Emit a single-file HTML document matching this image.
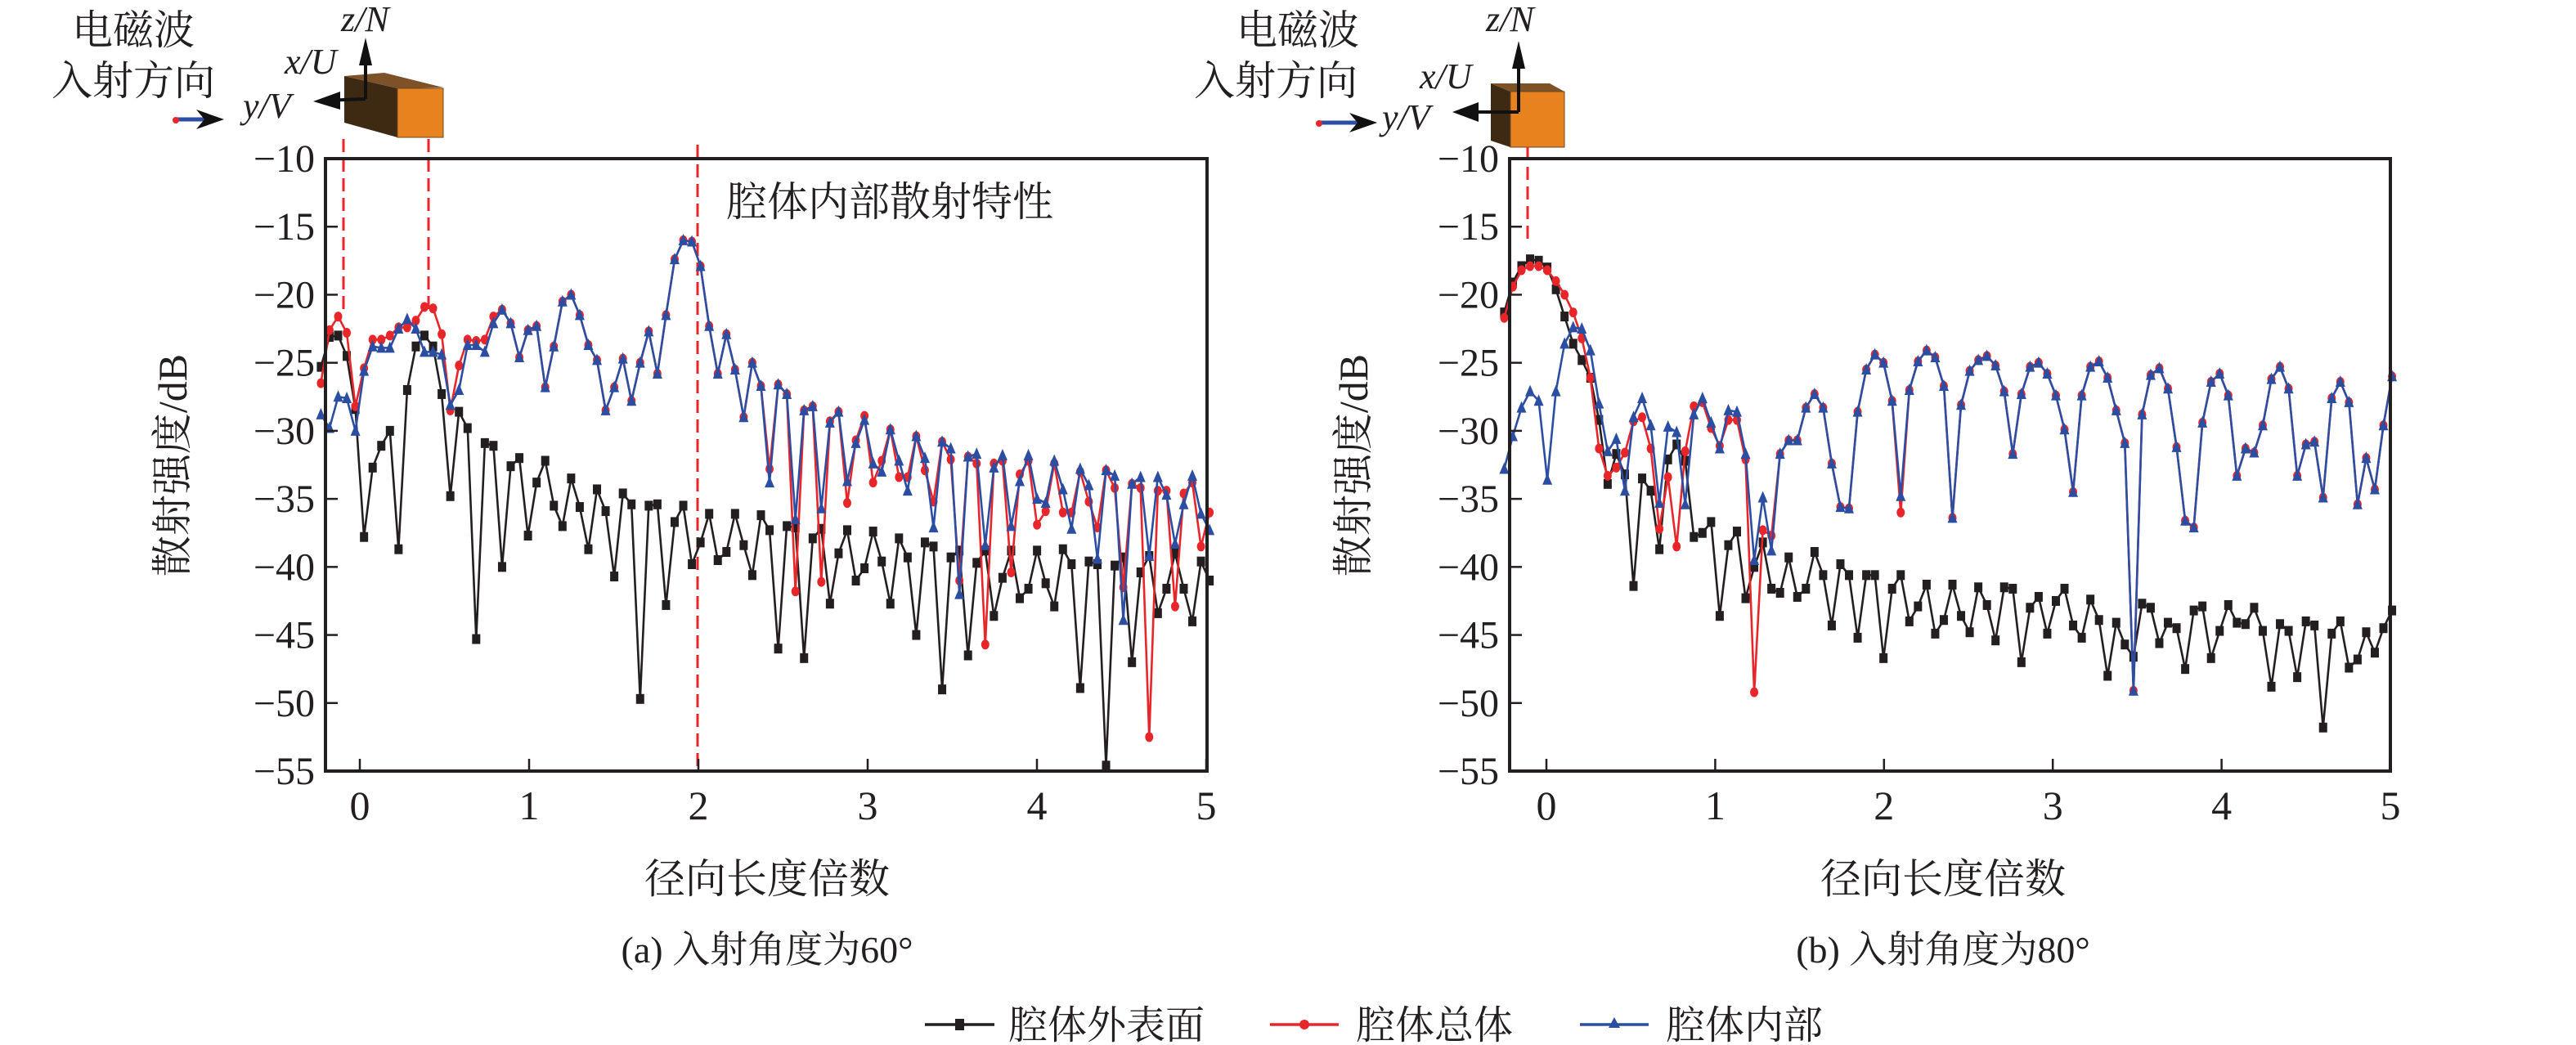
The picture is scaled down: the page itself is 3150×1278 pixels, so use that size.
<!DOCTYPE html>
<html><head><meta charset="utf-8"><style>
html,body{margin:0;padding:0;background:#fff}
svg{display:block}
text{font-family:"Liberation Serif","Noto Serif CJK SC","Noto Sans CJK SC",serif;fill:#231f20}
</style></head><body>
<svg id="fig" width="3150" height="1278" viewBox="0 0 3150 1278" xmlns="http://www.w3.org/2000/svg">
<g>
<text x="163" y="54" font-size="50" text-anchor="middle">电磁波</text>
<text x="163" y="116" font-size="50" text-anchor="middle">入射方向</text>
<line x1="216" y1="146" x2="258" y2="146" stroke="#2b4ea2" stroke-width="5"/>
<circle cx="215" cy="147" r="4" fill="#e8262a"/>
<polygon points="274,146 240,134 250,146 240,158" fill="#111"/>
<polygon points="421,150 486,168 486,108 421,93" fill="#3e2912"/>
<polygon points="421,93 470,89 542,107 486,108" fill="#7d5228"/>
<rect x="486" y="108" width="56" height="60" fill="#e8821f" stroke="#6b4a20" stroke-width="1"/>
<line x1="447" y1="121" x2="447" y2="58" stroke="#111" stroke-width="4"/>
<polygon points="447,46 439,80 455,80" fill="#111"/>
<line x1="447" y1="121" x2="395" y2="123" stroke="#111" stroke-width="4"/>
<polygon points="383,124 416,112 416,134" fill="#111"/>
<text x="417" y="38" font-size="44" font-style="italic">z/N</text>
<text x="348" y="90" font-size="44" font-style="italic">x/U</text>
<text x="297" y="144" font-size="44" font-style="italic">y/V</text>
</g>
<g>
<text x="1587" y="54" font-size="50" text-anchor="middle">电磁波</text>
<text x="1560" y="116" font-size="50" text-anchor="middle">入射方向</text>
<line x1="1614" y1="150" x2="1664" y2="150" stroke="#2b4ea2" stroke-width="5"/>
<circle cx="1613" cy="151" r="4" fill="#e8262a"/>
<polygon points="1684,150 1650,138 1660,150 1650,162" fill="#111"/>
<polygon points="1823,102 1847,112 1847,180 1823,172" fill="#3e2912"/>
<polygon points="1823,102 1895,102 1913,112 1847,112" fill="#7d5228"/>
<rect x="1847" y="112" width="66" height="68" fill="#e8821f" stroke="#6b4a20" stroke-width="1"/>
<line x1="1857" y1="137" x2="1857" y2="62" stroke="#111" stroke-width="4"/>
<polygon points="1857,50 1849,84 1865,84" fill="#111"/>
<line x1="1857" y1="137" x2="1788" y2="137" stroke="#111" stroke-width="4"/>
<polygon points="1776,137 1808,125 1808,149" fill="#111"/>
<text x="1817" y="38" font-size="44" font-style="italic">z/N</text>
<text x="1736" y="108" font-size="44" font-style="italic">x/U</text>
<text x="1690" y="158" font-size="44" font-style="italic">y/V</text>
</g>
<g id="plots"></g>
<g>
<g>
<line x1="1131" y1="1253" x2="1216" y2="1253" stroke="#231f20" stroke-width="3.5"/>
<rect x="1168" y="1246" width="11" height="14" fill="#231f20"/>
<text x="1233" y="1270" font-size="48">腔体外表面</text></g>
<g>
<line x1="1553" y1="1253" x2="1637" y2="1253" stroke="#e8262a" stroke-width="3.5"/>
<circle cx="1595" cy="1253" r="6" fill="#e8262a"/>
<text x="1658" y="1270" font-size="48">腔体总体</text></g>
<g>
<line x1="1932" y1="1253" x2="2016" y2="1253" stroke="#2b4ea2" stroke-width="3.5"/>
<polygon points="1974,1244 1967,1257 1981,1257" fill="#2b4ea2"/>
<text x="2037" y="1270" font-size="48">腔体内部</text></g>
</g>
</svg>
<script>
// ---------- data: panel (a) 60° ----------
const aOuter=[-25.3,-23.1,-23.0,-24.5,-28.4,-37.8,-32.7,-31.1,-30.0,-38.7,-27.0,-23.8,-23.0,-23.8,-27.3,-34.8,-28.6,-29.8,-45.3,-30.9,-31.1,-40.0,-32.6,-32.0,-37.7,-33.8,-32.2,-35.5,-37.0,-33.5,-35.6,-38.7,-34.3,-35.9,-40.7,-34.6,-35.4,-49.7,-35.5,-35.4,-42.8,-36.7,-35.5,-39.8,-38.2,-36.1,-39.5,-38.9,-36.1,-38.4,-40.6,-36.2,-37.3,-46.0,-37.0,-37.1,-46.7,-37.9,-37.2,-42.7,-39.0,-37.3,-41.0,-40.1,-37.4,-39.6,-42.7,-37.9,-39.3,-45.0,-38.2,-38.5,-49.0,-39.3,-38.8,-46.5,-39.7,-38.8,-43.6,-40.8,-38.8,-42.3,-41.6,-38.8,-41.2,-42.9,-38.7,-39.8,-48.9,-39.6,-39.8,-54.6,-39.9,-39.3,-47.0,-40.4,-39.2,-43.4,-41.6,-39.0,-41.6,-44.0,-39.6,-41.0];
const aTotal=[-26.5,-22.6,-21.6,-22.8,-28.2,-25.4,-23.3,-23.3,-23.0,-22.4,-22.4,-21.9,-20.9,-21.0,-22.9,-28.5,-25.2,-23.3,-23.4,-23.3,-21.6,-21.1,-22.1,-24.6,-22.6,-22.3,-26.8,-23.8,-20.5,-20.0,-21.5,-23.7,-24.8,-28.5,-26.8,-24.7,-27.8,-25.0,-22.7,-25.8,-21.5,-17.4,-16.0,-16.1,-17.9,-22.3,-25.8,-22.9,-25.5,-29.0,-25.0,-26.7,-32.8,-26.6,-27.3,-41.8,-28.5,-28.2,-41.1,-29.3,-28.6,-35.3,-30.7,-28.9,-33.8,-32.2,-29.9,-33.4,-33.4,-30.4,-32.9,-35.2,-30.8,-32.1,-41.0,-31.9,-32.4,-45.7,-32.4,-32.2,-40.4,-33.2,-32.2,-36.9,-35.9,-32.4,-36.0,-36.0,-33.0,-35.2,-37.1,-32.9,-34.2,-41.5,-33.9,-34.2,-52.5,-34.4,-34.4,-42.9,-34.6,-33.8,-38.5,-36.0];
const aInner=[-28.8,-29.8,-27.5,-27.6,-30.0,-25.6,-23.8,-23.9,-23.9,-22.5,-21.8,-22.5,-24.2,-24.2,-24.4,-28.1,-27.0,-23.7,-23.7,-24.2,-22.1,-21.1,-22.1,-24.6,-22.6,-22.3,-26.8,-23.8,-20.5,-20.0,-21.5,-23.7,-24.8,-28.5,-26.8,-24.7,-27.8,-25.0,-22.7,-25.8,-21.5,-17.4,-16.0,-16.1,-17.9,-22.3,-25.8,-22.9,-25.5,-29.0,-25.0,-26.7,-33.8,-26.6,-27.3,-36.5,-28.5,-28.2,-35.7,-29.4,-28.6,-33.7,-30.9,-29.2,-32.4,-33.0,-29.9,-32.2,-34.4,-30.4,-32.0,-37.1,-30.8,-31.3,-42.0,-31.9,-31.7,-38.4,-32.7,-31.8,-37.0,-33.7,-31.8,-35.0,-35.3,-32.2,-34.3,-37.2,-32.8,-34.0,-39.4,-32.9,-33.3,-43.9,-33.9,-33.4,-39.2,-33.4,-34.7,-38.3,-35.4,-33.3,-36.1,-37.3];
// ---------- data: panel (b) 80° ----------
const bOuter=[-21.3,-19.1,-17.9,-17.4,-17.5,-18.0,-19.6,-21.6,-23.6,-24.8,-26.1,-29.2,-33.9,-31.7,-33.2,-41.4,-33.5,-34.4,-38.7,-32.1,-31.0,-32.2,-37.8,-37.5,-36.7,-43.6,-38.4,-37.4,-42.3,-40.0,-38.2,-41.6,-41.9,-39.3,-42.2,-41.6,-38.9,-40.6,-44.3,-39.8,-40.6,-45.2,-40.6,-40.6,-46.7,-41.6,-40.6,-44.0,-42.9,-41.3,-44.9,-43.9,-41.3,-43.6,-44.8,-41.5,-42.8,-45.4,-41.5,-41.6,-47.0,-43.0,-42.2,-44.9,-42.5,-41.6,-44.3,-45.2,-42.4,-43.9,-48.0,-44.1,-45.7,-46.6,-42.7,-43.0,-45.6,-44.1,-44.5,-47.5,-43.2,-42.9,-46.7,-44.7,-42.8,-44.1,-44.2,-43.0,-44.7,-48.8,-44.2,-44.7,-48.1,-44.0,-44.3,-51.8,-44.9,-44.0,-47.4,-46.8,-44.8,-46.3,-44.5,-43.2];
const bTotal=[-21.7,-19.4,-18.2,-17.9,-17.9,-18.2,-19.0,-20.0,-21.3,-23.2,-26.1,-31.3,-33.3,-32.7,-31.6,-29.3,-29.0,-31.3,-37.2,-33.4,-38.5,-31.5,-28.2,-27.9,-29.8,-31.1,-29.2,-29.2,-32.1,-49.2,-37.3,-37.7,-31.7,-30.7,-30.7,-28.3,-27.3,-28.3,-32.4,-35.6,-35.7,-28.6,-25.5,-24.4,-25.0,-27.8,-36.0,-27.0,-24.9,-24.1,-24.6,-26.7,-36.4,-28.1,-25.6,-24.8,-24.5,-25.2,-27.1,-31.7,-27.3,-25.3,-25.0,-25.8,-27.4,-29.9,-34.5,-27.4,-25.3,-24.9,-26.1,-28.5,-30.9,-49.1,-28.8,-25.9,-25.4,-26.9,-31.2,-36.6,-37.1,-29.4,-26.4,-25.8,-27.4,-33.3,-31.3,-31.6,-29.6,-26.2,-25.3,-26.9,-33.3,-31.0,-30.8,-34.9,-27.6,-26.4,-27.9,-35.4,-32.0,-34.3,-29.6,-26.0];
const bInner=[-32.8,-30.4,-28.3,-27.1,-27.8,-33.6,-27.1,-23.6,-22.4,-22.5,-24.1,-28.0,-31.5,-30.6,-34.4,-29.0,-27.6,-29.6,-35.3,-29.7,-30.1,-35.4,-28.8,-27.6,-29.4,-31.3,-28.5,-28.6,-31.7,-39.5,-34.9,-38.8,-31.7,-30.7,-30.7,-28.3,-27.3,-28.3,-32.4,-35.6,-35.7,-28.6,-25.5,-24.4,-25.0,-27.8,-34.8,-27.0,-24.9,-24.1,-24.6,-26.7,-36.4,-28.1,-25.6,-24.8,-24.5,-25.2,-27.1,-31.7,-27.3,-25.3,-25.0,-25.8,-27.4,-29.9,-34.5,-27.4,-25.3,-24.9,-26.1,-28.5,-30.9,-49.1,-28.8,-25.9,-25.4,-26.9,-31.2,-36.6,-37.1,-29.4,-26.4,-25.8,-27.4,-33.3,-31.3,-31.6,-29.6,-26.2,-25.3,-26.9,-33.3,-31.0,-30.8,-34.9,-27.6,-26.4,-27.9,-35.4,-32.0,-34.3,-29.6,-26.0];
const xTicks=[0,1,2,3,4,5];
const yTicks=[-10,-15,-20,-25,-30,-35,-40,-45,-50,-55];
const aRange=[-0.23,5.02];
const bRange=[-0.25,5.01];

const NS='http://www.w3.org/2000/svg';
const root=document.getElementById('plots');
function mk(tag,attrs,parent){const e=document.createElementNS(NS,tag);for(const k in attrs)e.setAttribute(k,attrs[k]);(parent||root).appendChild(e);return e;}
const TOP=194,BOT=943;
function yScale(v){return TOP+(v-(-10))/(-45)*(BOT-TOP);}

function panel(cfg){
  const g=mk('g',{});
  
  
  const xS=v=>cfg.x0+v*cfg.ppu;
  // dashed markers
  cfg.dashes.forEach(d=>{
    const l=mk('line',{x1:d[0],x2:d[0],y1:d[1],y2:d[2],stroke:'#e8262a','stroke-width':3,'stroke-dasharray':'16,8'},g);
    
    
  });
  // series
  const series=[[cfg.outer,'#231f20','sq','series-outer-surface'],[cfg.total,'#e8262a','ci','series-total'],[cfg.inner,'#2b4ea2','tr','series-interior']];
  series.forEach(s=>{
    const arr=s[0],n=arr.length;
    const sg=mk('g',{},g);
    
    
    const xv=i=>cfg.range[0]+i*(cfg.range[1]-cfg.range[0])/(n-1);
    const pts=arr.map((v,i)=>xS(xv(i)).toFixed(1)+','+yScale(v).toFixed(1)).join(' ');
    const pl=mk('polyline',{points:pts,fill:'none',stroke:s[1],'stroke-width':2.6},sg);
    
    
    arr.forEach((v,i)=>{
      const cx=xS(xv(i)),cy=yScale(v);let m;
      if(s[2]==='sq')m=mk('rect',{x:cx-5,y:cy-6,width:10,height:12,fill:s[1]},sg);
      else if(s[2]==='ci')m=mk('ellipse',{cx:cx,cy:cy,rx:5,ry:6,fill:s[1]},sg);
      else m=mk('polygon',{points:(cx)+','+(cy-8)+' '+(cx-6)+','+(cy+6)+' '+(cx+6)+','+(cy+6),fill:s[1]},sg);
      
      
    });
  });
  // frame
  const fr=mk('rect',{x:cfg.L,y:TOP,width:cfg.R-cfg.L,height:BOT-TOP,fill:'none',stroke:'#231f20','stroke-width':4},g);
  
  
  xTicks.forEach(t=>{
    const x=xS(t);
    const tk=mk('line',{x1:x,x2:x,y1:BOT,y2:BOT-15,stroke:'#231f20','stroke-width':2.5},g);
    
    
    const tl=mk('text',{x:x,y:1002,'font-size':50,'text-anchor':'middle'},g);
    tl.textContent=String(t);
    
    
  });
  yTicks.forEach(t=>{
    const y=yScale(t);
    const tk=mk('line',{x1:cfg.L,x2:cfg.L+15,y1:y,y2:y,stroke:'#231f20','stroke-width':2.5},g);
    
    
    const tl=mk('text',{x:cfg.L-13,y:y+16,'font-size':48,'text-anchor':'end'},g);
    tl.textContent='\u2212'+Math.abs(t);
    
    
  });
  const yt=mk('text',{x:0,y:0,'font-size':50,'text-anchor':'middle',transform:'translate('+cfg.ytx+',569) rotate(-90)'},g);
  yt.textContent='散射强度/dB';
  
  
  const xt=mk('text',{x:cfg.cx,y:1092,'font-size':50,'text-anchor':'middle'},g);
  xt.textContent='径向长度倍数';
  
  
  const cp=mk('text',{x:cfg.cx,y:1177,'font-size':46,'text-anchor':'middle'},g);
  cp.textContent=cfg.caption;
  
  
  if(cfg.note){
    const nt=mk('text',{x:888,y:264,'font-size':50},g);
    nt.textContent=cfg.note;
    
    
  }
}
panel({name:'panel-a-60deg',x0:440,ppu:207,L:398,R:1476,range:aRange,outer:aOuter,total:aTotal,inner:aInner,
  dashes:[[420,170,378],[524,170,378],[853,177,943]],ytx:228,cx:938,caption:'(a) 入射角度为60°',note:'腔体内部散射特性'});
panel({name:'panel-b-80deg',x0:1891,ppu:206.4,L:1846,R:2923,range:bRange,outer:bOuter,total:bTotal,inner:bInner,
  dashes:[[1868,180,300]],ytx:1672,cx:2376,caption:'(b) 入射角度为80°',note:null});
</script>
</body></html>
